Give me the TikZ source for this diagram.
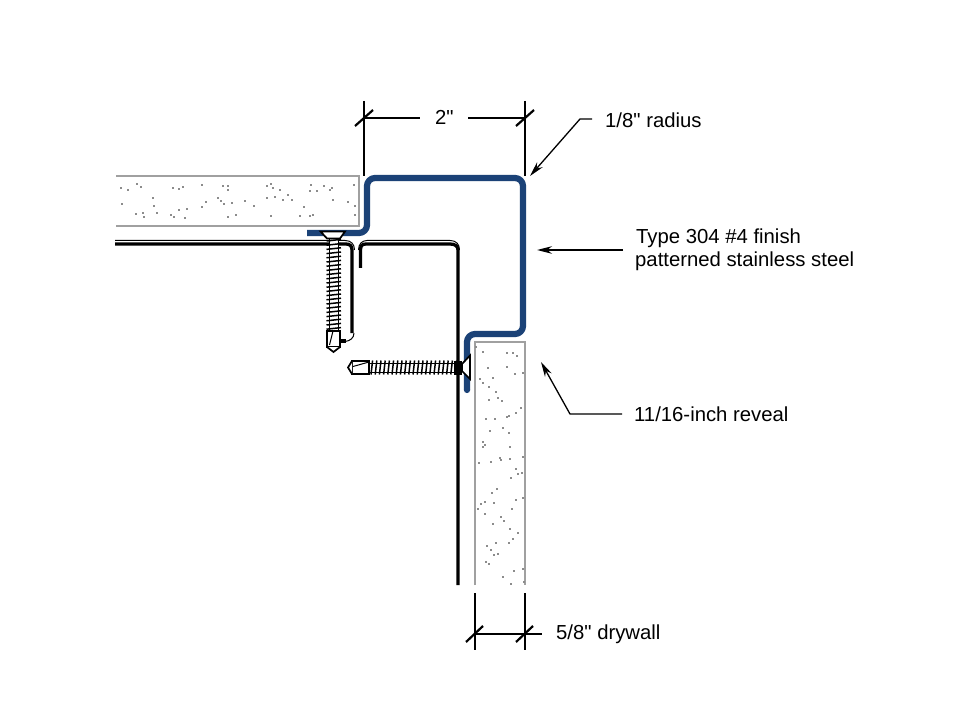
\documentclass[tikz,border=0pt]{standalone}
\usepackage{fontspec}
\setmainfont{Liberation Sans}[Ligatures=TeXOff]
\definecolor{chan}{HTML}{1B4277}
\definecolor{board}{HTML}{A0A0A0}
\definecolor{speck}{HTML}{8C8C8C}
\tikzset{
  board line/.style={draw=board,line width=2.2pt},
  channel/.style={draw=chan,line width=6.2pt,line join=round,rounded corners=8pt},
  stud/.style={draw=black,line width=3.3pt},
  studthin/.style={draw=black,line width=1pt},
  dim/.style={draw=black,line width=1.7pt},
  leader/.style={draw=black,line width=1.3pt},
  leadarrow/.style={leader,-{Stealth[length=15pt,width=7.5pt]}},
  lab/.style={font=\fontsize{20.3}{24}\selectfont,inner sep=0pt,anchor=base west,text=black},
  fix/.style={draw=black,line width=1.7pt,fill=white,line join=miter},
  thread/.style={draw=black,line width=1.5pt},
}
\usetikzlibrary{arrows.meta}
\newcommand{\speckat}[2]{\fill[speck] (#1-0.9,#2-0.9) rectangle (#1+0.9,#2+0.9);}
\begin{document}
\begin{tikzpicture}[x=1pt,y=-1pt]
\useasboundingbox (0,0) rectangle (969,727);
\fill[white] (0,0) rectangle (969,727);

% top board
\draw[board line] (116,176) -- (359,176) -- (359,226) -- (116,226);
\foreach \a/\b in {62/68,83/74,110/58,122/66,160/100,163/122,65/116,108/148,128/145,133/157,172/143,212/150,222/157,238/135,262/132,255/158,218/68,238/72,250/66,305/60,370/64,385/64,383/74,305/125,318/112,353/100,362/107,372/118,395/115,435/107,462/122,385/155,408/150,500/62,512/58,520/70,540/75,500/98,525/95,550/105,565/90,575/105,512/152,600/152,612/125,630/152,640/150,630/78,632/60,650/78,672/62,695/68,690/75,700/105,745/112,765/122,762/60,765/150} {
  \pgfmathsetmacro{\px}{100+\a/3}
  \pgfmathsetmacro{\py}{165+\b/3}
  \speckat{\px}{\py}
}

% side board
\draw[board line] (475,585) -- (475,342) -- (525,342) -- (525,585);
\foreach \a/\b in {78/50,98/65,113/113,172/70,190/68,200/78,172/110,195/133,218/130,128/143,90/147,100/158,117/172,138/185,117/210,145/203,155/212,213/233,198/248,178/258,172/262,108/268,135/266,120/302,158/294,177/308,98/335,106/345,100/352,180/350,87/398,123/395,150/383,154/390,180/386,220/380,197/417,205/432,216/430,183/443,140/477,126/488,105/515,92/521,132/518,198/510,220/505,83/536,105/552,186/536,153/560,163/572,129/581,180/597,204/608,188/628,176/638,110/648,137/640,123/659,145/672,132/675,107/695,116/702,192/722,218/718,158/741,222/755,183/762} {
  \pgfmathsetmacro{\px}{450+\a/3}
  \pgfmathsetmacro{\py}{330+\b/3}
  \speckat{\px}{\py}
}

% left stud
\draw[stud] (115,244) -- (346,244) .. controls (350,244) and (352,246) .. (352,250) -- (352,333);
\draw[studthin] (115,240.5) -- (345,240.5) .. controls (351,240.5) and (354.5,244) .. (354.5,250);
\draw[studthin] (354,333) .. controls (354,338) and (350,341) .. (345,341.5);
\draw[draw=black,line width=3.3pt] (340,341) -- (346,341);
% right stud
\draw[stud] (360.5,268) -- (360.5,250) .. controls (360.5,246) and (362,244) .. (366,244) -- (450,244) .. controls (455,244) and (458,246) .. (458,250) -- (458,585);
\draw[studthin] (358.5,250) .. controls (358.5,244) and (362,240.5) .. (367,240.5) -- (450,240.5) .. controls (456,240.5) and (459.5,244) .. (459.5,250);

% channel
\draw[channel] (307,233) -- (367,233) -- (367,178) -- (523,178) -- (523,334) -- (467,334) -- (467,390);
\fill[chan] (467,390) circle (3.1);

% vertical screw
\fill[white] (329,238) rectangle (338,331);
\foreach \i in {0,...,21} {
  \pgfmathsetmacro{\yy}{241+\i*4.2}
  \pgfmathsetmacro{\yz}{\yy-1.6}
  \draw[thread] (326.5,\yy) -- (341,\yz);
}
\draw[draw=black,line width=1pt] (329,238) -- (329,331) (338.5,238) -- (338.5,331);
\draw[fix] (320.5,231.5) -- (345,231.5) -- (340,238.5) -- (327,238.5) -- cycle;
\draw[fix] (327,331) rectangle (340,347);
\draw[fix] (327,347) -- (333.5,352) -- (340,347);
\draw[draw=black,line width=1pt] (333,331) -- (329.5,345);

% horizontal screw
\fill[white] (369,363) rectangle (456,372);
\foreach \i in {0,...,20} {
  \pgfmathsetmacro{\xx}{371+\i*4.2}
  \pgfmathsetmacro{\xz}{\xx+1.6}
  \draw[thread] (\xx,374.5) -- (\xz,360.5);
}
\draw[draw=black,line width=1pt] (369,363) -- (456,363) (369,372) -- (456,372);
\fill[black] (454,360.5) rectangle (462,375);
\draw[fix] (462,364) -- (470,355.5) -- (470,379) -- (462,371) -- cycle;
\draw[fix] (352,361) rectangle (369,374);
\draw[fix] (352,361) -- (348,367.5) -- (352,374);
\draw[draw=black,line width=1pt] (369,362) -- (353,366.5);

% coordinates for dimensions and leaders
\coordinate (wa) at (364,101);
\coordinate (wb) at (364,176);
\coordinate (wc) at (525,101);
\coordinate (wd) at (525,176);
\coordinate (we) at (364,118);
\coordinate (wf) at (525,118);
\coordinate (da) at (475,593);
\coordinate (db) at (475,650);
\coordinate (dc) at (525,593);
\coordinate (dd) at (525,650);
\coordinate (de) at (475,634);
\coordinate (df) at (525,634);
\coordinate (dg) at (542,634);
\coordinate (ra) at (530,176);
\coordinate (rb) at (580,119);
\coordinate (fa) at (537,250);
\coordinate (ga) at (541,362);
\coordinate (gb) at (570,414);

\node[lab] (two) at (435,125) {2"};
\node[lab] (rad) at (605,127.5) {1/8" radius};
\node[lab] (fin1) at (636,243.5) {Type 304 \#4 finish};
\node[lab] (fin2) at (635,267) {patterned stainless steel};
\node[lab] (rev) at (634,421) {11/16-inch reveal};
\node[lab] (dry) at (556,639) {5/8" drywall};

% dimensions
\draw[dim] (wa) -- (wb);
\draw[dim] (wc) -- (wd);
\draw[dim] (we) -- (420,118);
\draw[dim] (468,118) -- (wf);
\draw[dim,line width=2.2pt] ([shift={(-9,8)}]we) -- ([shift={(9,-8)}]we);
\draw[dim,line width=2.2pt] ([shift={(-9,8)}]wf) -- ([shift={(9,-8)}]wf);
\draw[dim] (da) -- (db);
\draw[dim] (dc) -- (dd);
\draw[dim] (de) -- (dg);
\draw[dim,line width=2.2pt] ([shift={(-9,8)}]de) -- ([shift={(8,-8)}]de);
\draw[dim,line width=2.2pt] ([shift={(-9,8)}]df) -- ([shift={(8,-8)}]df);

% leaders
\draw[leadarrow] (592,119) -- (rb) -- (ra);
\draw[leadarrow] (623,250) -- (fa);
\draw[leadarrow] (622,414) -- (gb) -- (ga);
\end{tikzpicture}
\end{document}
